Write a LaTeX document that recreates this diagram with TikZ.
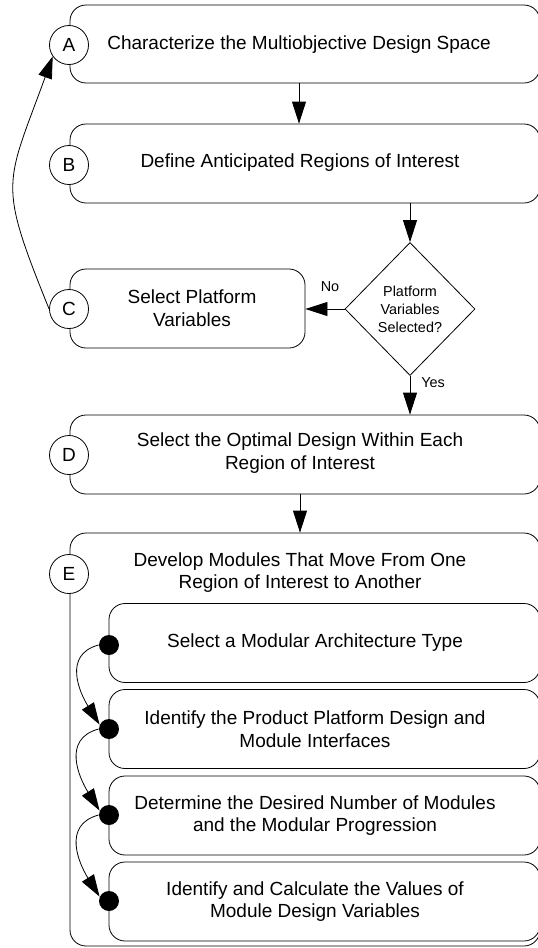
\documentclass[tikz,border=0pt]{standalone}
\usepackage{fontspec}
\setmainfont{Liberation Sans}
\usetikzlibrary{shapes.geometric, arrows.meta}

\begin{document}
\begin{tikzpicture}[x=1pt, y=-1pt, line width=0.8pt,
        every node/.style={font=\fontsize{19}{22.5}\selectfont, align=center},
        stepbox/.style={draw, rounded corners=16pt, inner sep=0pt},
        tag/.style={draw, circle, fill=white, minimum size=39pt, inner sep=0pt},
        dot/.style={circle, fill, minimum size=20pt, inner sep=0pt},
        small/.style={font=\fontsize{14.4}{18}\selectfont},
        >={Triangle[length=22pt, width=14pt]}]

    \useasboundingbox (0,0) rectangle (538,948);

    % outer steps
    \node[stepbox, minimum width=470pt, minimum height=78pt] (boxa) at (305,44) {};
    \node[stepbox, minimum width=470pt, minimum height=79pt] (boxb) at (305,163.5) {};
    \node[stepbox, minimum width=235pt, minimum height=79pt] (boxc) at (187.5,308.5) {};
    \node[stepbox, minimum width=470pt, minimum height=79pt] (boxd) at (305,454.5) {};
    \node[stepbox, minimum width=470pt, minimum height=413pt] (boxe) at (305,739.5) {};

    \node (ta) at (299,45) {Characterize the Multiobjective Design Space};
    \node (tb) at (300,163) {Define Anticipated Regions of Interest};
    \node (tc) at (192,308) {Select Platform\\Variables};
    \node (td) at (300,453) {Select the Optimal Design Within Each\\Region of Interest};
    \node (te) at (300,572.5) {Develop Modules That Move From One\\Region of Interest to Another};

    % decision
    \node[draw, diamond, aspect=1, inner sep=0pt, minimum width=130pt,
        minimum height=133pt, small] (dia) at (410,309) {Platform\\Variables\\Selected?};
    \node[small] (lno) at (330,287) {No};
    \node[small] (lyes) at (433,383) {Yes};

    % sub steps of E
    \foreach \i/\y/\txt in {1/643/{Select a Modular Architecture Type},
            2/729/{Identify the Product Platform Design and\\Module Interfaces},
            3/815.5/{Determine the Desired Number of Modules\\and the Modular Progression},
            4/901.5/{Identify and Calculate the Values of\\Module Design Variables}} {
            \node[stepbox, minimum width=431pt, minimum height=79pt] (sub\i) at (324.5,\y) {};
            \node (ts\i) at (315,\y) {\txt};
        }

    \foreach \i/\y in {1/645,2/729,3/815,4/901} {
            \node[dot] (dot\i) at (109,\y) {};
        }

    \foreach \i/\j in {1/2,2/3,3/4} {
            \draw[->] (dot\i.west) to[out=195, in=122, looseness=1.2] (dot\j.155);
        }

    % letters
    \node[tag] (taga) at (69,45) {A};
    \node[tag] (tagb) at (69,165) {B};
    \node[tag] (tagc) at (69,309) {C};
    \node[tag] (tagd) at (69,455) {D};
    \node[tag] (tage) at (69,574) {E};

    % flow
    \draw[->] (boxa.south -| ta) -- (boxb.north -| ta);
    \draw[->] (boxb.south -| dia) -- (dia.north);
    \draw[->] (dia.west) -- (boxc.east |- dia);
    \draw[->] (dia.south) -- (boxd.north -| dia);
    \draw[->] (boxd.south -| td) -- (boxe.north -| td);
    \draw[->] (tagc.west) to[out=112, in=-110, looseness=1.4] (taga.215);
\end{tikzpicture}
\end{document}
